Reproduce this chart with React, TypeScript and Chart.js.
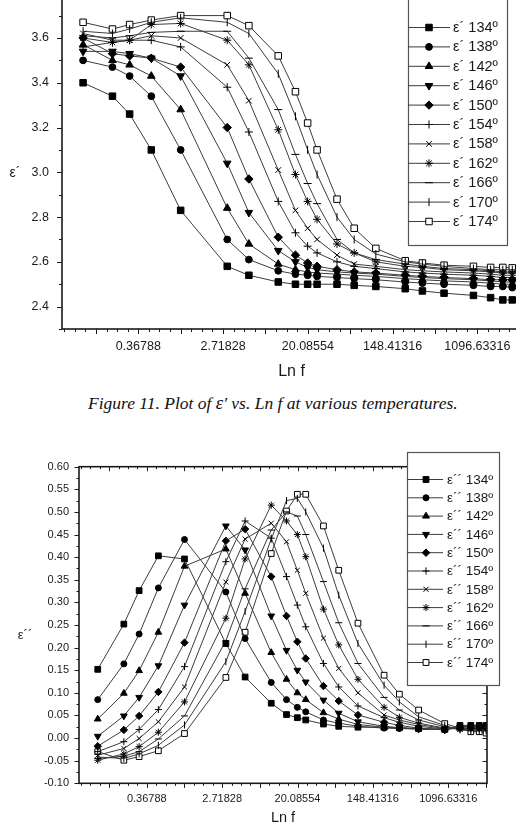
import React, { useEffect, useRef } from 'react';
import { Chart, registerables } from 'chart.js';
import { drawPoint } from 'chart.js/helpers';

Chart.register(...registerables);

// ---------------- data ----------------
const FREQ = [0.1, 0.2, 0.3, 0.5, 1, 3, 5, 10, 15, 20, 25, 40, 60, 100, 200, 300, 500, 1000, 1500, 2000, 2500, 3000];
const TEMPS = ['134', '138', '142', '146', '150', '154', '158', '162', '166', '170', '174'];

// ε′ (real part)
const E1_134 = [3.40, 3.34, 3.26, 3.10, 2.83, 2.58, 2.54, 2.51, 2.50, 2.50, 2.50, 2.50, 2.495, 2.49, 2.48, 2.47, 2.46, 2.45, 2.44, 2.43, 2.43, 2.425];
const E1_138 = [3.50, 3.47, 3.43, 3.34, 3.10, 2.70, 2.61, 2.56, 2.545, 2.54, 2.535, 2.53, 2.525, 2.52, 2.51, 2.505, 2.50, 2.495, 2.49, 2.49, 2.485, 2.48];
const E1_142 = [3.57, 3.50, 3.48, 3.43, 3.28, 2.84, 2.68, 2.59, 2.565, 2.555, 2.55, 2.545, 2.54, 2.535, 2.525, 2.52, 2.515, 2.51, 2.505, 2.50, 2.50, 2.50];
const E1_146 = [3.54, 3.54, 3.53, 3.51, 3.43, 3.04, 2.82, 2.65, 2.60, 2.575, 2.565, 2.555, 2.55, 2.545, 2.535, 2.53, 2.525, 2.52, 2.515, 2.51, 2.51, 2.51];
const E1_150 = [3.60, 3.53, 3.52, 3.51, 3.47, 3.20, 2.97, 2.71, 2.63, 2.595, 2.58, 2.565, 2.555, 2.55, 2.54, 2.535, 2.53, 2.525, 2.52, 2.52, 2.52, 2.52];
const E1_154 = [3.56, 3.58, 3.59, 3.59, 3.56, 3.38, 3.18, 2.87, 2.73, 2.67, 2.64, 2.60, 2.58, 2.57, 2.555, 2.55, 2.545, 2.54, 2.535, 2.53, 2.53, 2.53];
const E1_158 = [3.62, 3.59, 3.59, 3.61, 3.60, 3.48, 3.32, 3.01, 2.83, 2.75, 2.70, 2.63, 2.59, 2.58, 2.565, 2.56, 2.555, 2.55, 2.545, 2.54, 2.54, 2.54];
const E1_162 = [3.60, 3.58, 3.59, 3.66, 3.665, 3.59, 3.48, 3.19, 2.99, 2.87, 2.79, 2.68, 2.64, 2.60, 2.58, 2.575, 2.565, 2.56, 2.555, 2.55, 2.55, 2.55];
const E1_166 = [3.61, 3.60, 3.61, 3.625, 3.63, 3.63, 3.51, 3.28, 3.08, 2.95, 2.86, 2.70, 2.64, 2.61, 2.59, 2.58, 2.57, 2.565, 2.56, 2.555, 2.555, 2.555];
const E1_170 = [3.63, 3.62, 3.64, 3.67, 3.69, 3.67, 3.62, 3.44, 3.25, 3.10, 2.99, 2.80, 2.70, 2.635, 2.60, 2.59, 2.58, 2.57, 2.565, 2.565, 2.565, 2.565];
const E1_174 = [3.67, 3.64, 3.66, 3.68, 3.70, 3.70, 3.655, 3.52, 3.36, 3.22, 3.10, 2.88, 2.75, 2.66, 2.605, 2.595, 2.585, 2.58, 2.575, 2.575, 2.573, 2.572];

// ε″ (imaginary part)
const E2_134 = [0.152, 0.252, 0.326, 0.403, 0.396, 0.209, 0.135, 0.077, 0.052, 0.045, 0.040, 0.031, 0.026, 0.024, 0.024, 0.023, 0.021, 0.019, 0.028, 0.028, 0.028, 0.028];
const E2_138 = [0.085, 0.164, 0.230, 0.332, 0.439, 0.323, 0.220, 0.123, 0.085, 0.068, 0.058, 0.040, 0.033, 0.026, 0.022, 0.021, 0.020, 0.019, 0.026, 0.027, 0.027, 0.027];
const E2_142 = [0.042, 0.099, 0.149, 0.234, 0.380, 0.418, 0.320, 0.189, 0.130, 0.100, 0.085, 0.056, 0.042, 0.030, 0.024, 0.022, 0.020, 0.019, 0.025, 0.026, 0.026, 0.026];
const E2_146 = [0.004, 0.049, 0.090, 0.160, 0.294, 0.469, 0.416, 0.270, 0.194, 0.150, 0.124, 0.084, 0.055, 0.036, 0.026, 0.023, 0.020, 0.019, 0.024, 0.025, 0.025, 0.025];
const E2_150 = [-0.018, 0.018, 0.049, 0.102, 0.211, 0.436, 0.462, 0.357, 0.270, 0.213, 0.176, 0.115, 0.082, 0.051, 0.035, 0.028, 0.022, 0.018, 0.024, 0.025, 0.025, 0.025];
const E2_154 = [-0.030, -0.008, 0.019, 0.063, 0.158, 0.390, 0.480, 0.442, 0.357, 0.294, 0.246, 0.165, 0.113, 0.071, 0.045, 0.035, 0.026, 0.020, 0.022, 0.022, 0.022, 0.022];
const E2_158 = [-0.038, -0.023, -0.001, 0.036, 0.113, 0.345, 0.440, 0.475, 0.434, 0.371, 0.320, 0.221, 0.154, 0.100, 0.051, 0.040, 0.030, 0.021, 0.021, 0.021, 0.021, 0.021];
const E2_162 = [-0.049, -0.035, -0.019, 0.013, 0.080, 0.265, 0.396, 0.515, 0.480, 0.450, 0.401, 0.285, 0.206, 0.130, 0.068, 0.046, 0.033, 0.022, 0.020, 0.020, 0.020, 0.020];
const E2_166 = [-0.045, -0.040, -0.030, -0.002, 0.049, 0.215, 0.330, 0.460, 0.500, 0.491, 0.450, 0.346, 0.255, 0.165, 0.090, 0.062, 0.040, 0.025, 0.019, 0.018, 0.018, 0.018];
const E2_170 = [-0.042, -0.045, -0.035, -0.016, 0.029, 0.169, 0.280, 0.440, 0.525, 0.530, 0.500, 0.420, 0.316, 0.209, 0.117, 0.080, 0.047, 0.028, 0.018, 0.016, 0.016, 0.016];
const E2_174 = [-0.030, -0.049, -0.041, -0.028, 0.010, 0.134, 0.234, 0.408, 0.502, 0.539, 0.539, 0.469, 0.371, 0.254, 0.139, 0.097, 0.062, 0.032, 0.022, 0.014, 0.014, 0.011];

const E1_SERIES = [E1_134, E1_138, E1_142, E1_146, E1_150, E1_154, E1_158, E1_162, E1_166, E1_170, E1_174];
const E2_SERIES = [E2_134, E2_138, E2_142, E2_146, E2_150, E2_154, E2_158, E2_162, E2_166, E2_170, E2_174];

const X_TICK_LABELS = ['0.36788', '2.71828', '20.08554', '148.41316', '1096.63316'];
const Y1_TICK_LABELS = ['2.4', '2.6', '2.8', '3.0', '3.2', '3.4', '3.6', '3.8'];
const Y2_TICK_LABELS = ['-0.10', '-0.05', '0.00', '0.05', '0.10', '0.15', '0.20', '0.25', '0.30', '0.35', '0.40', '0.45', '0.50', '0.55', '0.60'];

// ---------------- styles ----------------
const MARKERS = [
  { style: 'rect', rot: 0, fill: '#000', r: 4.6 },
  { style: 'circle', rot: 0, fill: '#000', r: 3.4 },
  { style: 'triangle', rot: 0, fill: '#000', r: 4.4 },
  { style: 'triangle', rot: 180, fill: '#000', r: 4.4 },
  { style: 'rectRot', rot: 0, fill: '#000', r: 4.2 },
  { style: 'cross', rot: 0, fill: '#000', r: 4 },
  { style: 'crossRot', rot: 0, fill: '#000', r: 4 },
  { style: 'star', rot: 0, fill: '#000', r: 4 },
  { style: 'line', rot: 0, fill: '#000', r: 4 },
  { style: 'line', rot: 90, fill: '#000', r: 4 },
  { style: 'rect', rot: 0, fill: '#fff', r: 4.6 },
];

const FONT = '"Liberation Sans", Arial, Helvetica, sans-serif';
const INK = '#1a1a1a';
const LINE = '#3c3c3c';

type Geo = {
  W: number; H: number; pageTop: number;
  left: number; right: number; top: number; bottom: number;
  yMin: number; yMax: number; yMinor: number[];
  tickFont: number; yPad: number; xPad: number;
  titleFont: number; titlePadBottom: number;
  legend: { l: number; r: number; t: number; b: number; y0: number; step: number; lineEnd: number; mx: number; tx: number; font: number; scale: number };
  yTitle: { text: string; x: number; y: number; font: number };
  majLen: number; minLen: number; markerScale: number;
};

const X_MIN = Math.exp(-2.8);
const X_MAX = Math.exp(8.03);

// minor x ticks (natural-log positions)
function xMinorVals(): number[] {
  const out: number[] = [];
  for (let k = -2.75; k <= 8.01; k += 0.25) {
    if (Math.abs(k - Math.round(k)) < 1e-6) continue;
    out.push(Math.exp(k));
  }
  return out;
}
function xMidVals(): number[] {
  const out: number[] = [];
  for (let k = -2; k <= 8; k += 2) out.push(Math.exp(k));
  return out;
}

function makeConfig(series: number[][], prefix: string, yLabels: string[], g: Geo) {
  const datasets = series.map((vals, i) => {
    const m = MARKERS[i];
    return {
      label: `${prefix} ${TEMPS[i]}º`,
      data: FREQ.map((f, j) => ({ x: f, y: vals[j] })),
      borderColor: LINE,
      borderWidth: 1,
      pointStyle: m.style,
      pointRotation: m.rot,
      pointRadius: m.r * g.markerScale,
      pointHoverRadius: m.r * g.markerScale,
      pointBackgroundColor: m.fill,
      pointBorderColor: '#000',
      pointBorderWidth: 1,
      tension: 0,
    };
  });

  const framePlugin = {
    id: 'frameTicks',
    afterDraw(chart: any) {
      const { ctx, chartArea: a, scales } = chart;
      const xs = scales.x, ys = scales.y;
      ctx.save();
      ctx.strokeStyle = INK;
      ctx.lineWidth = 1.6;
      ctx.strokeRect(a.left, a.top, a.right - a.left, a.bottom - a.top);
      ctx.lineWidth = 1;
      ctx.beginPath();
      const xTick = (v: number, len: number) => {
        const px = Math.round(xs.getPixelForValue(v)) + 0.5;
        ctx.moveTo(px, a.bottom); ctx.lineTo(px, a.bottom + len);
        ctx.moveTo(px, a.top); ctx.lineTo(px, a.top + len);
      };
      const yTick = (v: number, len: number) => {
        const py = Math.round(ys.getPixelForValue(v)) + 0.5;
        ctx.moveTo(a.left, py); ctx.lineTo(a.left - len, py);
        ctx.moveTo(a.right, py); ctx.lineTo(a.right - len, py);
      };
      X_TICK_LABELS.forEach((l) => xTick(Number(l), g.majLen));
      xMidVals().forEach((v) => xTick(v, g.majLen));
      xMinorVals().forEach((v) => xTick(v, g.minLen));
      yLabels.forEach((l) => yTick(Number(l), g.majLen));
      g.yMinor.forEach((v) => yTick(v, g.minLen));
      ctx.stroke();

      // y title (upright)
      ctx.fillStyle = INK;
      ctx.font = `${g.yTitle.font}px ${FONT}`;
      ctx.textAlign = 'center';
      ctx.textBaseline = 'middle';
      ctx.fillText(g.yTitle.text, g.yTitle.x, g.yTitle.y);

      // legend
      const L = g.legend;
      ctx.fillStyle = '#fff';
      ctx.fillRect(L.l, L.t, L.r - L.l, L.b - L.t);
      ctx.strokeStyle = '#555';
      ctx.lineWidth = 1.2;
      ctx.strokeRect(L.l + 0.5, L.t + 0.5, L.r - L.l, L.b - L.t);
      ctx.font = `${L.font}px ${FONT}`;
      ctx.textAlign = 'left';
      chart.data.datasets.forEach((ds: any, i: number) => {
        const y = L.y0 + i * L.step;
        const m = MARKERS[i];
        ctx.strokeStyle = LINE;
        ctx.lineWidth = 1;
        ctx.beginPath();
        ctx.moveTo(L.l, y + 0.5); ctx.lineTo(L.lineEnd, y + 0.5);
        ctx.stroke();
        ctx.fillStyle = m.fill;
        ctx.strokeStyle = '#000';
        ctx.lineWidth = 1;
        drawPoint(ctx, { pointStyle: m.style, rotation: m.rot, radius: m.r * L.scale, borderWidth: 1 } as any, L.mx, y + 0.5);
        ctx.fillStyle = INK;
        ctx.textBaseline = 'middle';
        ctx.fillText(ds.label, L.tx, y + 1);
      });
      ctx.restore();
    },
  };

  return {
    type: 'line' as const,
    data: { datasets },
    plugins: [framePlugin],
    options: {
      responsive: false,
      animation: false as const,
      devicePixelRatio: 1,
      layout: { padding: { left: 0, top: g.top, right: g.W - g.right, bottom: 0 } },
      plugins: { legend: { display: false }, tooltip: { enabled: false }, title: { display: false } },
      scales: {
        x: {
          type: 'logarithmic' as const,
          min: X_MIN,
          max: X_MAX,
          grid: { display: false, drawTicks: false },
          border: { display: false },
          afterFit: (s: any) => { s.height = g.H - g.bottom; },
          afterBuildTicks: (s: any) => { s.ticks = X_TICK_LABELS.map((l) => ({ value: Number(l) })); },
          ticks: {
            autoSkip: false, maxRotation: 0, minRotation: 0, padding: g.xPad,
            color: INK, font: { family: FONT, size: g.tickFont },
            callback: (_v: any, i: number) => X_TICK_LABELS[i],
          },
          title: { display: true, text: 'Ln f', color: INK, font: { family: FONT, size: g.titleFont }, padding: { top: 0, bottom: g.titlePadBottom } },
        },
        y: {
          type: 'linear' as const,
          min: g.yMin,
          max: g.yMax,
          grid: { display: false, drawTicks: false },
          border: { display: false },
          afterFit: (s: any) => { s.width = g.left; },
          afterBuildTicks: (s: any) => { s.ticks = yLabels.map((l) => ({ value: Number(l) })); },
          ticks: {
            autoSkip: false, padding: g.yPad, color: INK, font: { family: FONT, size: g.tickFont },
            callback: (_v: any, i: number) => yLabels[i],
          },
        },
      },
    },
  };
}

const TOP_GEO: Geo = {
  W: 560, H: 420, pageTop: -30,
  left: 62, right: 521, top: 23.2, bottom: 359,
  yMin: 2.3, yMax: 3.8,
  yMinor: [2.3, 2.5, 2.7, 2.9, 3.1, 3.3, 3.5, 3.7],
  tickFont: 12.5, yPad: 13, xPad: 10,
  titleFont: 16, titlePadBottom: 9,
  legend: { l: 408, r: 507, t: 18, b: 275, y0: 57, step: 19.4, lineEnd: 450, mx: 429, tx: 453, font: 14.5, scale: 1 },
  yTitle: { text: 'ε´', x: 15, y: 203, font: 14 },
  majLen: 5, minLen: 3, markerScale: 1,
};

const BOT_GEO: Geo = {
  W: 516, H: 397, pageTop: 430,
  left: 79, right: 487, top: 36.7, bottom: 353.3,
  yMin: -0.1, yMax: 0.6,
  yMinor: Array.from({ length: 14 }, (_, i) => -0.075 + i * 0.05),
  tickFont: 11, yPad: 10, xPad: 9,
  titleFont: 14.5, titlePadBottom: 0,
  legend: { l: 407, r: 499, t: 22, b: 255, y0: 49, step: 18.3, lineEnd: 443, mx: 426, tx: 447, font: 13.5, scale: 0.9 },
  yTitle: { text: 'ε´´', x: 25, y: 205, font: 13 },
  majLen: 4.5, minLen: 2.5, markerScale: 0.88,
};

function ChartBox({ series, prefix, yLabels, geo }: { series: number[][]; prefix: string; yLabels: string[]; geo: Geo }) {
  const ref = useRef<HTMLCanvasElement | null>(null);
  useEffect(() => {
    if (!ref.current) return;
    const chart = new Chart(ref.current, makeConfig(series, prefix, yLabels, geo) as any);
    return () => chart.destroy();
  }, []);
  return (
    <canvas
      ref={ref}
      width={geo.W}
      height={geo.H}
      style={{ position: 'absolute', left: 0, top: geo.pageTop, width: geo.W, height: geo.H }}
    />
  );
}

export default function App() {
  return (
    <div style={{ position: 'fixed', left: 0, top: 0, width: 516, height: 827, overflow: 'hidden', background: '#fff' }}>
      <ChartBox series={E1_SERIES} prefix="ε´" yLabels={Y1_TICK_LABELS} geo={TOP_GEO} />
      <div
        style={{
          position: 'absolute', left: 88, top: 393, whiteSpace: 'nowrap',
          fontFamily: '"Liberation Serif", "Times New Roman", serif', fontStyle: 'italic', fontSize: 17.5, color: '#111',
        }}
      >
        Figure 11. Plot of <span style={{ fontSize: 18.5 }}>ε</span>′ vs. Ln f at various temperatures.
      </div>
      <ChartBox series={E2_SERIES} prefix="ε´´" yLabels={Y2_TICK_LABELS} geo={BOT_GEO} />
    </div>
  );
}
